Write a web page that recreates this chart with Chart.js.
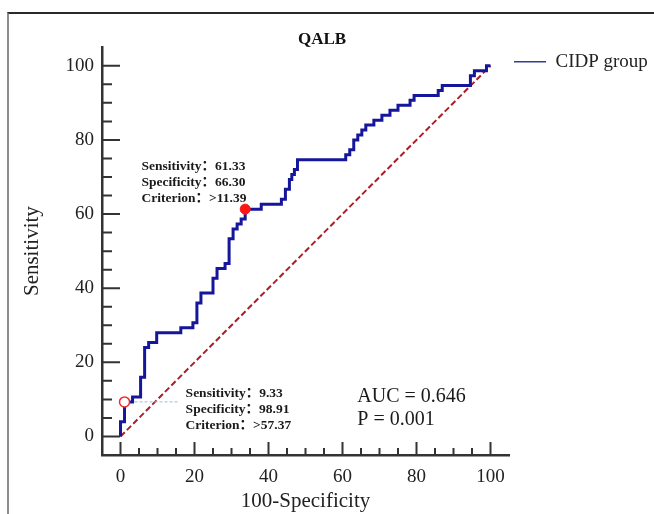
<!DOCTYPE html>
<html lang="en">
<head>
<meta charset="UTF-8">
<title>QALB ROC</title>
<script src="https://cdn.jsdelivr.net/npm/chart.js"></script>
<style>
    body { margin: 0; background: #fff; }
    #wrap { position: relative; width: 654px; height: 514px; overflow: hidden; }
    #frame {
        position: absolute; left: 7px; top: 12px; width: 700px; height: 600px;
        border-left: 2px solid #8c8c8c; border-top: 2px solid #2a2a2a;
    }
    #chart { position: absolute; left: 0; top: 0; }
</style>
</head>
<body>
<div id="wrap">
    <div id="frame"></div>
    <canvas id="chart" width="654" height="514"></canvas>
</div>
<script>
    // ROC path corners (100-Specificity, Sensitivity), step goes up first then right
    const rocFpr = [0, 1.09, 3.26, 5.43, 6.52, 7.61, 9.78, 16.30, 19.57, 20.65, 21.74, 25.00, 26.09,
        28.26, 29.35, 30.43, 31.52, 32.61, 33.70, 38.04, 43.48, 44.57, 45.65, 46.30, 47.00, 47.83,
        60.87, 61.96, 63.04, 64.13, 65.22, 66.30, 68.48, 70.65, 72.83, 75.00, 78.26, 79.35, 85.87,
        86.96, 94.57, 95.65, 98.91, 100];
    const rocTpr = [0, 4.00, 9.33, 10.67, 16.00, 24.00, 25.33, 28.00, 29.33, 30.67, 36.00, 38.67, 42.67,
        45.33, 46.67, 53.33, 56.00, 57.33, 58.67, 61.33, 62.67, 64.00, 66.67, 69.33, 70.67, 72.00,
        74.67, 76.00, 77.33, 80.00, 81.33, 82.67, 84.00, 85.33, 86.67, 88.00, 89.33, 90.67, 92.00,
        93.33, 94.67, 97.33, 98.67, 100];

    const cutSens = [61.33, 9.33];
    const cutSpec = [66.30, 98.91];
    const cutCrit = ['>11.39', '>57.37'];
    const statLines = ['AUC = 0.646', 'P = 0.001'];
    const tickLabels = [0, 20, 40, 60, 80, 100];

    const serif = "'Liberation Serif', 'Times New Roman', serif";
    const noteFont = "'Liberation Serif', 'Noto Sans CJK SC', serif";
    const axisMin = -5, axisMax = 105;

    // inward tick marks, like the original software draws them
    const innerTicks = {
        id: 'innerTicks',
        afterDraw(chart) {
            const {ctx, chartArea, scales: {x, y}} = chart;
            ctx.save();
            ctx.strokeStyle = '#333';
            ctx.lineWidth = 2;
            ctx.beginPath();
            x.ticks.forEach(t => {
                if (t.value < 0 || t.value > 100) return;
                const px = x.getPixelForValue(t.value);
                const len = t.value % 20 === 0 ? 13 : 7;
                ctx.moveTo(px, chartArea.bottom);
                ctx.lineTo(px, chartArea.bottom - len);
            });
            y.ticks.forEach(t => {
                if (t.value < 0 || t.value > 100) return;
                const py = y.getPixelForValue(t.value);
                const len = t.value % 20 === 0 ? 18 : 10;
                ctx.moveTo(chartArea.left, py);
                ctx.lineTo(chartArea.left + len, py);
            });
            ctx.stroke();
            ctx.restore();
        }
    };

    // cut-off boxes and AUC text
    const notePos = [[5.7, 72.8], [17.6, 11.7]];
    const notes = {
        id: 'notes',
        afterDatasetsDraw(chart) {
            const {ctx, scales: {x, y}} = chart;
            ctx.save();
            ctx.fillStyle = '#1a1a1a';
            ctx.textBaseline = 'middle';
            ctx.textAlign = 'left';
            ctx.font = 'bold 13.5px ' + noteFont;
            cutSens.forEach((s, i) => {
                const lines = ['Sensitivity：' + s.toFixed(2),
                               'Specificity：' + cutSpec[i].toFixed(2),
                               'Criterion：' + cutCrit[i]];
                const px = x.getPixelForValue(notePos[i][0]);
                const py = y.getPixelForValue(notePos[i][1]);
                lines.forEach((l, k) => ctx.fillText(l, px, py + k * 16.2));
            });
            ctx.font = '20px ' + serif;
            const ax = x.getPixelForValue(64.0);
            const ay = y.getPixelForValue(10.8);
            statLines.forEach((l, k) => ctx.fillText(l, ax, ay + k * 23));
            ctx.restore();
        }
    };

    new Chart(document.getElementById('chart'), {
        type: 'line',
        data: {
            datasets: [
                {
                    label: 'CIDP group',
                    data: rocFpr.map((v, i) => ({x: v, y: rocTpr[i]})),
                    borderColor: '#16169a',
                    borderWidth: 3,
                    stepped: 'after',
                    pointRadius: 0,
                    order: 1
                },
                {
                    label: 'reference',
                    data: [{x: 0, y: 0}, {x: 100, y: 100}],
                    borderColor: '#ab1f28',
                    borderWidth: 2,
                    borderDash: [6, 3],
                    pointRadius: 0,
                    order: 3
                },
                {
                    label: 'leader',
                    data: [{x: 100 - cutSpec[1], y: cutSens[1]}, {x: 15.5, y: cutSens[1]}],
                    borderColor: '#9dbbe3',
                    borderWidth: 1,
                    borderDash: [3, 2],
                    pointRadius: 0,
                    order: 2
                },
                {
                    label: 'cut-off',
                    data: cutSens.map((s, i) => ({x: 100 - cutSpec[i], y: s})),
                    showLine: false,
                    pointRadius: 5,
                    pointBackgroundColor: ['#ff1414', '#ffffff'],
                    pointBorderColor: ['#ff1414', '#ee2a2a'],
                    pointBorderWidth: [1, 1.5],
                    order: 0
                }
            ]
        },
        options: {
            responsive: false,
            animation: false,
            layout: { padding: {left: -10, right: 0, top: 32.8, bottom: 0} },
            scales: {
                x: {
                    type: 'linear',
                    min: axisMin,
                    max: axisMax,
                    afterFit: s => { s.height = 59; },
                    grid: { drawOnChartArea: false, drawTicks: false },
                    border: { display: true, color: '#333', width: 2.5 },
                    ticks: {
                        stepSize: 5, autoSkip: false, maxRotation: 0, padding: 11,
                        color: '#222', font: {family: serif, size: 19},
                        callback: v => tickLabels.includes(v) ? String(v) : ''
                    },
                    title: {
                        display: true, text: '100-Specificity', color: '#222',
                        font: {family: serif, size: 21}, padding: {top: 0, bottom: 0}
                    }
                },
                y: {
                    type: 'linear',
                    min: axisMin,
                    max: axisMax,
                    afterFit: s => { s.width = 112; },
                    grid: { drawOnChartArea: false, drawTicks: false },
                    border: { display: true, color: '#333', width: 2.5 },
                    ticks: {
                        stepSize: 5, autoSkip: false, padding: 8,
                        color: '#222', font: {family: serif, size: 19},
                        callback: v => tickLabels.includes(v) ? String(v) : ''
                    },
                    title: {
                        display: true, text: 'Sensitivity', color: '#222',
                        font: {family: serif, size: 21}, padding: {top: 30, bottom: 0}
                    }
                }
            },
            plugins: {
                title: {
                    display: true, text: 'QALB', color: '#111',
                    font: {family: serif, size: 17, weight: 'bold', lineHeight: 0.85},
                    padding: {top: 0, bottom: 0}
                },
                legend: {
                    position: 'right',
                    align: 'start',
                    fullSize: false,
                    maxWidth: 145,
                    labels: {
                        usePointStyle: true, pointStyle: 'line', pointStyleWidth: 32,
                        color: '#222', font: {family: serif, size: 19}, padding: 5,
                        filter: item => item.datasetIndex === 0,
                        generateLabels: chart => Chart.defaults.plugins.legend.labels.generateLabels(chart)
                            .map(l => Object.assign(l, {lineWidth: 1.5, strokeStyle: '#2e3f94', pointStyle: 'line'}))
                    }
                },
                tooltip: { enabled: false }
            }
        },
        plugins: [innerTicks, notes]
    });
</script>
</body>
</html>
